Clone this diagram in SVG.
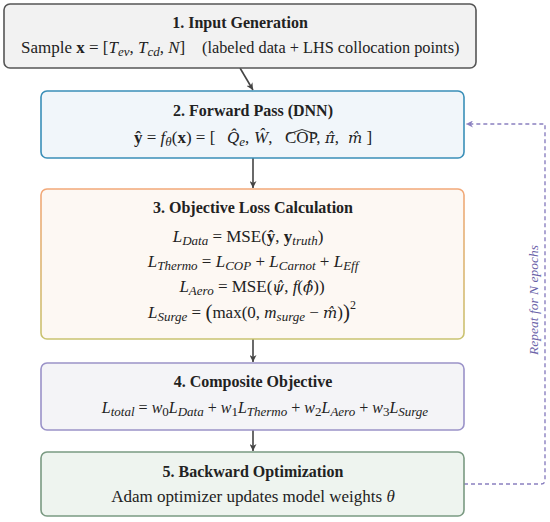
<svg xmlns="http://www.w3.org/2000/svg" width="550" height="522" viewBox="0 0 550 522">
<defs>
<style>
text{font-family:"Liberation Serif","Times New Roman",serif;fill:#222;}
.t{font-size:16px;font-weight:bold;text-anchor:middle;}
.b{font-size:17px;}
.m{text-anchor:middle;}
.i{font-style:italic;}
.s{font-size:13px;font-style:italic;}
.n{font-size:13px;}
.h{font-family:"DejaVu Serif",serif;font-style:italic;font-size:15px;}
.bx{stroke-width:1.6;}
</style>
<linearGradient id="g3" x1="0" y1="0" x2="0" y2="1">
<stop offset="0" stop-color="#f2a878"/>
<stop offset="1" stop-color="#c9c370"/>
</linearGradient>
<marker id="ah" viewBox="0 0 10 10" refX="10" refY="5" markerWidth="7" markerHeight="7" orient="auto" markerUnits="userSpaceOnUse">
<path d="M0,0 L10,5 L0,10 L3,5 z" fill="#444"/>
</marker>
<marker id="ahp" viewBox="0 0 10 10" refX="10" refY="5" markerWidth="7" markerHeight="7" orient="auto" markerUnits="userSpaceOnUse">
<path d="M0,0 L10,5 L0,10 L3,5 z" fill="#8a80c0"/>
</marker>
</defs>
<rect width="550" height="522" fill="#ffffff"/>

<g id="connectors" fill="none">
<line x1="240" y1="68" x2="253" y2="90" stroke="#444" stroke-width="1.6" marker-end="url(#ah)"/>
<line x1="253" y1="158" x2="253" y2="188" stroke="#444" stroke-width="1.6" marker-end="url(#ah)"/>
<line x1="253" y1="339" x2="253" y2="362" stroke="#444" stroke-width="1.6" marker-end="url(#ah)"/>
<line x1="253" y1="430" x2="253" y2="451" stroke="#444" stroke-width="1.6" marker-end="url(#ah)"/>
<path d="M464,484 H541 Q545,484 545,480 V124 H466" stroke="#8a80c0" stroke-width="1.4" stroke-dasharray="4,3" marker-end="url(#ahp)"/>
<text x="538" y="300" class="i" style="fill:#6a62a8;font-size:13.5px" text-anchor="middle" transform="rotate(-90 538 300)">Repeat for N epochs</text>
</g>

<g id="node1">
<rect x="4" y="4" width="472" height="64" rx="6" fill="#f2f2f2" stroke="#555555" class="bx"/>
<text x="240" y="28" class="t">1. Input Generation</text>
<text x="21" y="53" class="b">Sample <tspan font-weight="bold">x</tspan> = [<tspan class="i">T</tspan><tspan class="s" dy="3">ev</tspan><tspan dy="-3">, </tspan><tspan class="i">T</tspan><tspan class="s" dy="3">cd</tspan><tspan dy="-3">, </tspan><tspan class="i">N</tspan>]</text>
<text x="202" y="53" class="b" style="font-size:16.3px">(labeled data + LHS collocation points)</text>
</g>

<g id="node2">
<rect x="41" y="91" width="423" height="67" rx="6" fill="#f1f6fa" stroke="#3a8fb8" class="bx"/>
<text x="253" y="116" class="t">2. Forward Pass (DNN)</text>
<text x="134" y="143" class="b"><tspan font-weight="bold">ŷ</tspan> = <tspan class="i">f</tspan><tspan class="s" dy="3">θ</tspan><tspan dy="-3">(</tspan><tspan font-weight="bold">x</tspan>) = [</text>
<text x="227" y="143" class="b"><tspan class="i">Q̂</tspan><tspan class="s" dy="3">e</tspan><tspan dy="-3">,</tspan></text>
<text x="254" y="143" class="b"><tspan class="i">Ŵ</tspan>,</text>
<text x="285" y="143" class="b">COP,</text>
<path d="M287,134.5 L302,129.5 L317,134.5" fill="none" stroke="#222" stroke-width="0.9"/>
<text x="325" y="143" class="b"><tspan class="h">π̂</tspan>,</text>
<text x="348" y="143" class="b"><tspan class="h">m̂</tspan> ]</text>
</g>

<g id="node3">
<rect x="41" y="189" width="423" height="150" rx="6" fill="#fdf8f3" stroke="url(#g3)" class="bx"/>
<text x="253" y="213" class="t">3. Objective Loss Calculation</text>
<text x="248" y="242" class="b m"><tspan class="i">L</tspan><tspan class="s" dy="3">Data</tspan><tspan dy="-3"> = MSE(</tspan><tspan font-weight="bold">ŷ</tspan>, <tspan font-weight="bold">y</tspan><tspan class="s" dy="3">truth</tspan><tspan dy="-3">)</tspan></text>
<text x="253" y="267" class="b m"><tspan class="i">L</tspan><tspan class="s" dy="3">Thermo</tspan><tspan dy="-3"> = </tspan><tspan class="i">L</tspan><tspan class="s" dy="3">COP</tspan><tspan dy="-3"> + </tspan><tspan class="i">L</tspan><tspan class="s" dy="3">Carnot</tspan><tspan dy="-3"> + </tspan><tspan class="i">L</tspan><tspan class="s" dy="3">Eff</tspan></text>
<text x="252" y="292" class="b m"><tspan class="i">L</tspan><tspan class="s" dy="3">Aero</tspan><tspan dy="-3"> = MSE(</tspan><tspan class="h">ψ̂</tspan>, <tspan class="i">f</tspan>(<tspan class="h">ϕ̂</tspan>))</text>
<text x="252" y="318" class="b m"><tspan class="i">L</tspan><tspan class="s" dy="3">Surge</tspan><tspan dy="-3"> = </tspan><tspan font-size="21" dy="1">(</tspan><tspan dy="-1">max(0, </tspan><tspan class="i">m</tspan><tspan class="s" dy="3">surge</tspan><tspan dy="-3"> − </tspan><tspan class="h">m̂</tspan>)<tspan font-size="21" dy="1">)</tspan><tspan font-size="12" dy="-10">2</tspan></text>
</g>

<g id="node4">
<rect x="41" y="363" width="423" height="67" rx="6" fill="#f4f4f7" stroke="#9a92c8" class="bx"/>
<text x="253" y="387" class="t">4. Composite Objective</text>
<text x="265" y="413" class="b m" style="font-size:16px"><tspan class="i">L</tspan><tspan class="s" dy="3">total</tspan><tspan dy="-3"> = </tspan><tspan class="i">w</tspan><tspan class="n" dy="3">0</tspan><tspan class="i" dy="-3">L</tspan><tspan class="s" dy="3">Data</tspan><tspan dy="-3"> + </tspan><tspan class="i">w</tspan><tspan class="n" dy="3">1</tspan><tspan class="i" dy="-3">L</tspan><tspan class="s" dy="3">Thermo</tspan><tspan dy="-3"> + </tspan><tspan class="i">w</tspan><tspan class="n" dy="3">2</tspan><tspan class="i" dy="-3">L</tspan><tspan class="s" dy="3">Aero</tspan><tspan dy="-3"> + </tspan><tspan class="i">w</tspan><tspan class="n" dy="3">3</tspan><tspan class="i" dy="-3">L</tspan><tspan class="s" dy="3">Surge</tspan></text>
</g>

<g id="node5">
<rect x="41" y="452" width="423" height="64" rx="6" fill="#eef4ef" stroke="#7a9a82" class="bx"/>
<text x="253" y="477" class="t">5. Backward Optimization</text>
<text x="253" y="502" class="b m">Adam optimizer updates model weights <tspan class="i">θ</tspan></text>
</g>
</svg>
